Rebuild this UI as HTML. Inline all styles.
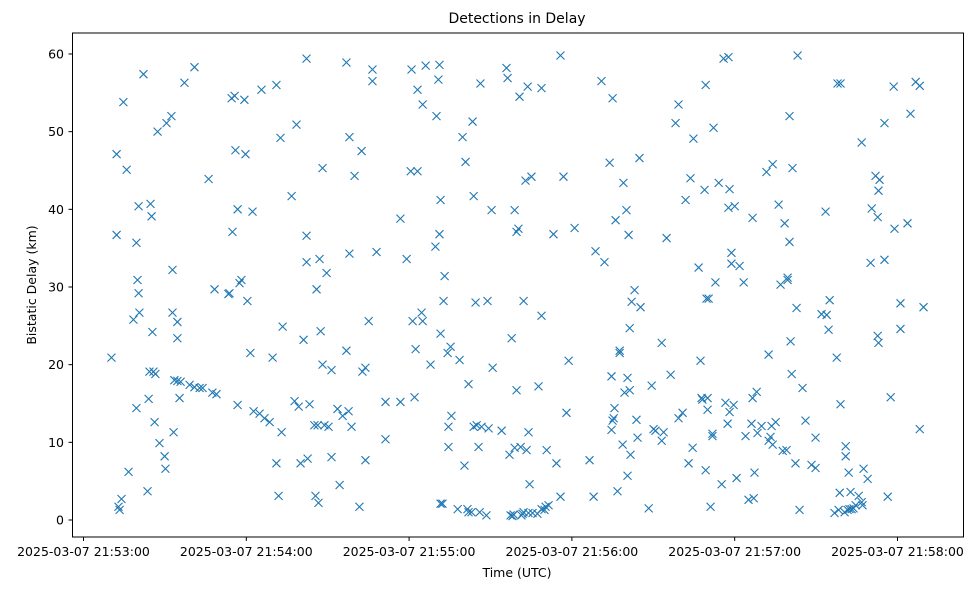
<!DOCTYPE html>
<html><head><meta charset="utf-8"><style>
body{margin:0;background:#fff;}
svg{display:block;font-family:"DejaVu Sans","Liberation Sans",sans-serif;}
</style></head><body>
<svg id="chart" width="979" height="590" viewBox="0 0 979 590">
<rect width="979" height="590" fill="#fff"/>
<text x="517" y="23" font-size="14" text-anchor="middle">Detections in Delay</text>
<text x="517" y="577" font-size="12.5" text-anchor="middle">Time (UTC)</text>
<text transform="translate(36,285) rotate(-90)" font-size="12.5" text-anchor="middle">Bistatic Delay (km)</text>
<g id="grid"></g>
<g id="marks"></g>
<rect x="72.5" y="33" width="891" height="504" fill="none" stroke="#000" stroke-width="1"/>
</svg>
<script>
// seconds after 2025-03-07 21:53:00 UTC
const times = [10.3,12.2,12.2,12.9,13.3,14.0,14.7,15.9,16.6,18.4,19.5,19.5,20.3,19.9,20.3,20.6,22.1,23.6,24.0,24.3,24.7,25.1,25.4,25.8,26.2,26.5,27.3,28.0,29.9,30.2,30.6,32.4,32.8,32.8,33.2,33.5,34.6,34.6,34.6,35.4,35.8,37.2,39.1,40.9,40.9,42.8,43.9,46.1,47.5,48.3,49.0,53.4,53.8,54.6,54.9,55.7,56.0,56.8,56.8,57.5,58.2,59.3,59.7,60.4,61.5,62.3,62.7,64.9,65.6,66.7,68.6,69.7,71.1,71.1,71.9,72.6,73.0,73.4,76.7,77.8,78.5,79.3,80.0,81.1,82.2,82.2,82.2,82.6,83.3,85.1,85.5,85.9,86.3,86.6,87.0,87.4,88.1,88.1,88.8,89.6,90.3,91.4,91.4,93.6,94.4,95.5,96.9,96.9,97.7,98.0,98.0,98.8,99.9,101.7,102.5,102.8,103.9,103.9,105.1,106.5,106.5,108.0,111.3,111.3,116.8,116.8,119.1,120.9,120.6,123.1,121.3,122.0,122.4,123.1,124.6,125.0,125.0,126.1,127.9,129.7,130.1,130.8,131.2,131.2,131.6,131.6,131.6,132.3,132.7,133.1,134.2,134.5,134.5,135.3,135.6,137.9,138.6,139.7,140.4,140.8,141.5,141.9,141.9,143.0,143.4,143.8,143.8,144.5,144.9,145.6,146.0,146.3,146.7,148.5,148.9,149.3,150.4,150.8,154.1,155.9,156.3,157.0,157.4,157.8,158.1,158.5,158.9,158.9,159.6,159.6,160.3,160.7,161.1,161.4,161.8,162.2,162.2,162.9,163.3,163.7,164.0,164.0,164.4,165.1,165.5,167.3,167.7,168.8,168.8,168.8,169.9,170.3,170.7,171.4,173.2,174.3,175.8,175.8,176.9,178.0,178.8,181.0,186.5,188.0,188.7,190.9,192.0,193.9,194.6,194.6,195.0,195.0,195.4,195.7,196.1,196.8,197.6,197.6,198.7,199.0,199.4,200.1,200.5,200.5,200.9,201.3,201.3,201.6,202.0,203.1,203.8,204.2,204.9,205.3,209.4,208.3,210.1,210.8,213.1,213.1,213.8,214.9,216.4,218.2,219.3,219.3,220.8,221.9,223.0,223.7,224.5,224.8,226.7,227.4,227.8,228.1,228.9,229.3,229.3,229.6,230.0,230.0,230.4,231.1,231.8,231.8,232.2,232.9,234.1,235.2,235.9,236.6,237.4,237.7,237.7,238.1,238.1,238.8,238.8,239.6,240.0,240.7,241.8,243.3,244.0,245.1,246.2,246.6,246.6,247.0,247.3,248.1,248.4,249.9,251.7,252.5,252.5,253.2,253.6,254.0,254.0,255.1,256.2,256.9,257.7,258.4,259.1,259.5,259.5,260.2,260.2,260.6,261.0,261.3,262.4,262.8,263.2,263.9,265.0,266.1,268.3,269.8,269.8,272.0,273.5,273.9,274.6,275.0,276.8,277.6,277.9,278.3,279.0,279.0,278.7,280.5,280.9,280.9,281.6,282.0,282.3,282.7,283.1,283.8,284.6,285.7,286.8,287.1,287.5,286.8,289.0,290.1,290.5,291.9,292.7,293.0,292.7,293.0,293.4,295.2,295.2,296.4,297.5,298.6,298.9,301.1,301.1,303.7,304.8,306.7,308.2,308.2,309.6];
const delays = [20.9,47.1,36.7,1.7,1.3,2.7,53.8,45.1,6.2,25.8,35.7,14.4,40.4,30.9,29.2,26.7,57.4,3.7,15.6,19.1,40.7,39.1,24.2,19.1,12.6,18.8,50.0,9.9,8.2,6.6,51.1,52.0,32.2,26.7,11.3,18.0,17.9,25.5,23.4,15.7,17.8,56.3,17.4,58.3,17.1,17.0,17.0,43.9,16.4,29.7,16.2,29.1,29.2,54.3,37.1,54.6,47.6,14.8,40.0,30.5,30.9,54.1,47.1,28.2,21.5,39.7,14.0,13.7,55.4,13.1,12.6,20.9,56.0,7.3,3.1,49.2,11.3,24.9,41.7,15.3,50.9,14.6,7.3,23.2,59.4,36.6,33.2,7.9,14.9,12.2,3.1,29.7,12.2,2.2,33.6,24.3,45.3,20.0,12.2,31.8,12.0,19.3,8.1,14.3,4.5,13.4,58.9,21.8,14.0,34.3,49.3,12.0,44.3,1.7,47.5,19.1,7.7,19.6,25.6,58.0,56.5,34.5,10.4,15.2,38.8,15.2,33.6,58.0,44.9,44.9,25.6,15.8,22.0,55.4,26.7,25.6,53.5,58.5,20.0,35.2,52.0,56.7,58.6,36.8,41.2,24.0,2.1,2.1,28.2,31.4,21.5,9.4,12.0,22.3,13.4,1.4,20.6,49.3,7.0,46.1,1.4,1.0,17.5,1.0,51.3,12.0,41.7,28.0,12.2,9.4,1.0,56.2,12.0,0.6,28.2,11.8,39.9,19.6,11.5,58.2,56.9,8.4,0.6,23.4,0.5,0.7,39.9,9.3,37.1,16.7,37.5,54.5,9.4,0.6,0.8,28.2,1.0,43.7,9.0,55.8,0.9,11.3,4.6,44.2,0.9,0.8,17.2,55.6,1.4,26.3,1.3,1.7,9.0,1.9,36.8,7.3,59.8,3.0,44.2,13.8,20.5,37.6,7.7,3.0,34.6,56.5,33.2,46.0,18.5,11.6,12.8,54.3,13.1,14.4,38.6,3.7,21.8,21.5,9.7,43.4,16.4,39.9,18.3,5.7,36.7,24.7,16.7,8.4,28.1,29.6,12.9,10.6,46.6,27.4,17.3,1.5,11.7,11.5,10.2,22.8,11.3,36.3,18.7,51.1,53.5,13.1,13.8,41.2,7.3,44.0,9.3,49.1,32.5,20.5,15.7,15.5,42.5,6.4,56.0,28.5,14.2,15.7,28.5,1.7,11.1,10.8,50.5,30.6,43.4,4.6,59.4,15.1,12.4,59.6,40.2,13.9,42.6,33.0,34.4,14.8,40.4,5.4,32.7,30.6,10.8,2.6,12.4,38.9,15.7,2.8,6.1,16.5,11.2,12.1,44.8,21.3,10.2,10.7,12.1,45.8,9.7,12.6,40.6,30.3,8.9,38.2,9.0,31.2,30.9,52.0,35.8,23.0,18.8,45.3,7.3,27.3,59.8,1.3,17.0,12.8,7.1,6.7,10.6,26.5,39.7,26.4,24.5,28.3,0.9,20.9,56.2,1.3,56.2,14.9,3.5,1.0,8.2,9.5,1.3,6.1,1.4,3.6,1.4,1.5,1.9,3.1,2.3,1.9,6.6,48.6,5.3,33.1,40.1,44.3,39.0,42.4,23.7,22.8,43.8,33.5,51.1,3.0,15.8,55.8,37.5,24.6,27.9,38.2,52.3,56.4,55.9,11.7,27.4];
const yTicks = [0,10,20,30,40,50,60];
const xTicks = [0,60,120,180,240,300];
const xTickLabels = ["2025-03-07 21:53:00","2025-03-07 21:54:00","2025-03-07 21:55:00","2025-03-07 21:56:00","2025-03-07 21:57:00","2025-03-07 21:58:00"];

const NS = "http://www.w3.org/2000/svg";
function xs(s){ return 83.5 + s * 2.7133; }
function ys(v){ return 520 - v * 7.767; }
const grid = document.getElementById('grid');
const marks = document.getElementById('marks');
function mk(tag, attrs, parent){
  const e = document.createElementNS(NS, tag);
  for (const k in attrs) e.setAttribute(k, attrs[k]);
  parent.appendChild(e);
  return e;
}
yTicks.forEach(function(v){
  const y = ys(v);
  const t = mk('line', {x1:68.5, x2:72.5, y1:y, y2:y, stroke:'#000', 'stroke-width':1}, grid);
  
  
  const l = mk('text', {x:64, y:y+4.5, 'font-size':12.5, 'text-anchor':'end'}, grid);
  l.textContent = v;
  
  
});
xTicks.forEach(function(s, i){
  const x = xs(s);
  const t = mk('line', {x1:x, x2:x, y1:537, y2:541, stroke:'#000', 'stroke-width':1}, grid);
  
  
  const l = mk('text', {x:x, y:556, 'font-size':12.5, 'text-anchor':'middle'}, grid);
  l.textContent = xTickLabels[i];
  
  
});
times.forEach(function(s, i){
  const x = xs(s), y = ys(delays[i]), r = 4;
  const p = mk('path', {d:'M'+(x-r)+' '+(y-r)+'L'+(x+r)+' '+(y+r)+'M'+(x-r)+' '+(y+r)+'L'+(x+r)+' '+(y-r), stroke:'#1f77b4', 'stroke-width':1.1, fill:'none'}, marks);
  
  
});
</script>
</body></html>
